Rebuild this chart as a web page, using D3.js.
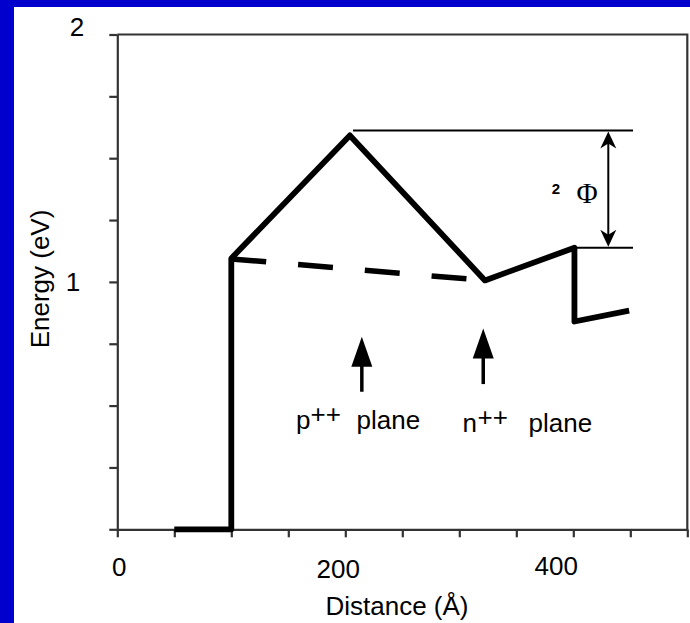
<!DOCTYPE html>
<html>
<head>
<meta charset="utf-8">
<script src="https://cdn.jsdelivr.net/npm/d3@7"></script>
<style>
  html, body { margin: 0; padding: 0; background: #0000cc; }
  svg { display: block; }
  text { font-family: "Liberation Sans", Arial, Helvetica, sans-serif; fill: #000; }
</style>
</head>
<body>
<svg id="chart" width="690" height="623"></svg>
<script>
// Conduction band edge across the doped structure (distance in Å, energy in eV)
const bandDistance = [50, 100, 100, 204, 322.5, 401, 401, 449];
const bandEnergy   = [0, 0, 1.095, 1.592, 1.006, 1.138, 0.84, 0.884];

// Fermi level (dashed) between the contact and the n++ plane
const fermiDistance = [100, 322.5];
const fermiEnergy   = [1.093, 1.006];

// Barrier-height reference levels and the arrow between them
const barrierTop = 1.612;
const barrierBottom = 1.138;
const barrierFrom = [206.8, 401];     // start distance of top / bottom reference line
const barrierTo = 452.4;
const barrierArrowAt = 430.7;

// Doping planes marked with arrows
const planeNames  = ["p", "n"];
const planeAt     = [214.5, 321];
const planeTip    = [0.778, 0.812];
const planeTail   = [0.556, 0.587];

// Axis ticks and labels
const xTickValues = [0, 50, 100, 150, 200, 250, 300, 350, 400, 450, 500];
const xTickLabels = [0, 200, 400];
const yTickValues = [0, 0.25, 0.5, 0.75, 1, 1.25, 1.5, 1.75, 2];
const yTickLabels = [1, 2];

const fontSize = 26;
const svg = d3.select("#chart");

// white panel inside the blue frame
svg.append("rect").attr("x", 14).attr("y", 7).attr("width", 676).attr("height", 616).attr("fill", "#fff");

const x = d3.scaleLinear().domain([0, 500]).range([117.3, 687.3]);
const y = d3.scaleLinear().domain([0, 2]).range([529.3, 34.5]);

const axisColor = "#333";

// bottom axis
const gx = svg.append("g").attr("transform", `translate(0,${y(0)})`)
  .call(d3.axisBottom(x).tickValues(xTickValues).tickSize(8).tickSizeOuter(0).tickFormat(""));
// left axis
const gy = svg.append("g").attr("transform", `translate(${x(0)},0)`)
  .call(d3.axisLeft(y).tickValues(yTickValues).tickSize(8).tickSizeOuter(0).tickFormat(""));
[gx, gy].forEach(g => {
  g.selectAll("path.domain").attr("stroke", axisColor).attr("stroke-width", 2.2);
  g.selectAll(".tick line").attr("stroke", axisColor).attr("stroke-width", 2.2);
});
// top and right frame
svg.append("path")
  .attr("d", `M${x(0)},${y(2)}H${x(500)}V${y(0)}`)
  .attr("fill", "none").attr("stroke", axisColor).attr("stroke-width", 2.2);

// tick labels (the original plot places them slightly off their ticks)
const xLabelNudge = {0: [2, 0], 200: [-7, 2], 400: [-17, -1]};
svg.append("g").selectAll("text").data(xTickLabels).join("text")
  .attr("x", d => x(d) + xLabelNudge[d][0])
  .attr("y", d => 576 + xLabelNudge[d][1])
  .attr("text-anchor", "middle").attr("font-size", fontSize)
  .text(d => d);

const yLabelNudge = {1: [0, 0], 2: [4, -7.5]};
svg.append("g").selectAll("text").data(yTickLabels).join("text")
  .attr("x", d => x(0) - 37 + yLabelNudge[d][0])
  .attr("y", d => y(d) + 9 + yLabelNudge[d][1])
  .attr("text-anchor", "end").attr("font-size", fontSize)
  .text(d => d);

// axis titles
svg.append("text").attr("x", 397).attr("y", 615).attr("text-anchor", "middle")
  .attr("font-size", fontSize).text("Distance (Å)");
svg.append("text").attr("transform", "translate(49,279) rotate(-90)").attr("text-anchor", "middle")
  .attr("font-size", fontSize).text("Energy (eV)");

const line = d3.line().x(d => x(d[0])).y(d => y(d[1]));

// reference levels for the barrier height
svg.append("g").selectAll("path").data([0, 1]).join("path")
  .attr("d", i => line([[barrierFrom[i], i === 0 ? barrierTop : barrierBottom], [barrierTo, i === 0 ? barrierTop : barrierBottom]]))
  .attr("stroke", "#000").attr("stroke-width", 2).attr("fill", "none");

// dashed Fermi level
svg.append("path")
  .attr("d", line(fermiDistance.map((d, i) => [d, fermiEnergy[i]])))
  .attr("fill", "none").attr("stroke", "#000").attr("stroke-width", 5.5)
  .attr("stroke-dasharray", "35,32");

// band edge
svg.append("path")
  .attr("d", line(bandDistance.map((d, i) => [d, bandEnergy[i]])))
  .attr("fill", "none").attr("stroke", "#000").attr("stroke-width", 5.8)
  .attr("stroke-linejoin", "round");

// double arrow for the barrier height
const ax = x(barrierArrowAt), aTop = y(barrierTop), aBot = y(barrierBottom);
svg.append("line").attr("x1", ax).attr("x2", ax).attr("y1", aTop + 6).attr("y2", aBot - 6)
  .attr("stroke", "#000").attr("stroke-width", 2);
svg.append("path")
  .attr("d", `M${ax},${aTop + 1}L${ax - 8},${aTop + 18}L${ax},${aTop + 13}L${ax + 8},${aTop + 18}Z`
    + `M${ax},${aBot - 1}L${ax - 8},${aBot - 18}L${ax},${aBot - 13}L${ax + 8},${aBot - 18}Z`)
  .attr("fill", "#000");

svg.append("text").attr("x", 556).attr("y", 194).attr("text-anchor", "middle")
  .attr("font-size", 15).attr("font-weight", "bold").text("2");
svg.append("text").attr("x", 587).attr("y", 203).attr("text-anchor", "middle")
  .attr("font-size", 29).style("font-family", "'Liberation Serif', 'Times New Roman', serif").text("Φ");

// arrows marking the doping planes
const arrows = svg.append("g").selectAll("g").data(planeNames).join("g");
arrows.append("line")
  .attr("x1", (d, i) => x(planeAt[i])).attr("x2", (d, i) => x(planeAt[i]))
  .attr("y1", (d, i) => y(planeTail[i])).attr("y2", (d, i) => y(planeTip[i]) + 25)
  .attr("stroke", "#000").attr("stroke-width", 3.5);
arrows.append("path")
  .attr("d", (d, i) => {
    const px = x(planeAt[i]), py = y(planeTip[i]);
    return `M${px},${py}L${px - 10.5},${py + 30}L${px + 10.5},${py + 30}Z`;
  })
  .attr("fill", "#000");

// plane labels: letter, raised "++", then "plane"
const labelLeft = [296, 462.5];
const labelBase = [429, 432];
const labels = svg.append("g").selectAll("g").data(planeNames).join("g");
labels.append("text").attr("x", (d, i) => labelLeft[i]).attr("y", (d, i) => labelBase[i])
  .attr("font-size", fontSize).text(d => d);
labels.append("text").attr("x", (d, i) => labelLeft[i] + [14.5, 15][i]).attr("y", (d, i) => labelBase[i] - 6)
  .attr("font-size", fontSize).text("++");
labels.append("text").attr("x", (d, i) => labelLeft[i] + [60.5, 66][i]).attr("y", (d, i) => labelBase[i])
  .attr("font-size", fontSize).text("plane");
</script>
</body>
</html>
